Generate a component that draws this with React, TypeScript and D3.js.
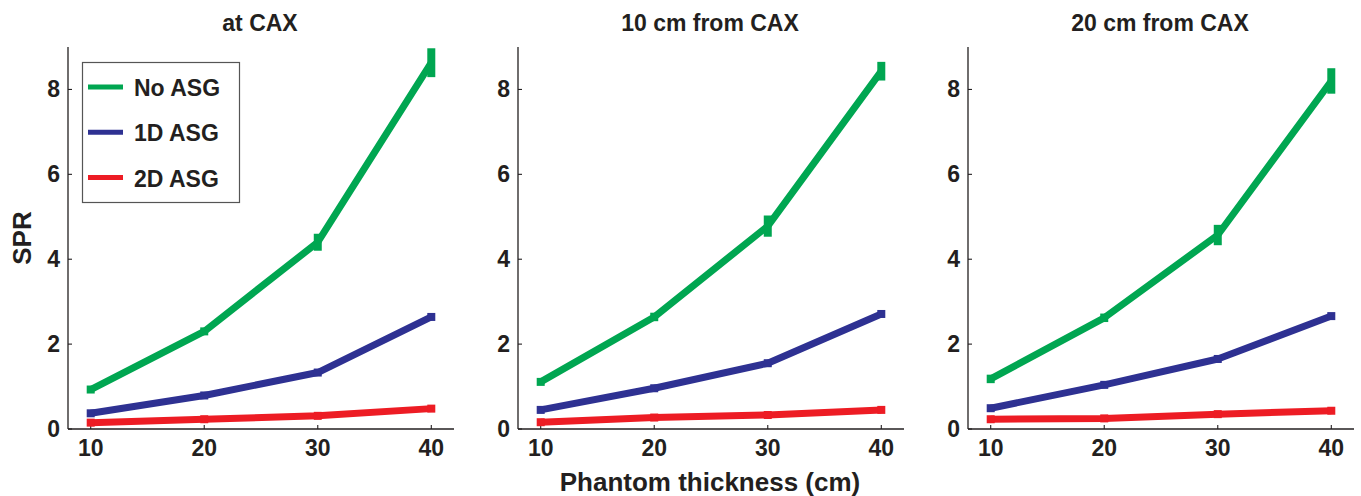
import React from "react";
import * as d3 from "d3";

// -- DATA --
const thickness = [10, 20, 30, 40];
const xTicks = [10, 20, 30, 40];
const yTicks = [0, 2, 4, 6, 8];
const panelTitles = ["at CAX", "10 cm from CAX", "20 cm from CAX"];
const seriesNames = ["No ASG", "1D ASG", "2D ASG"];
const seriesColors = ["#00a651", "#2e3192", "#ed1c24"];

// SPR per panel (rows) per series
const noAsg = [
  [0.93, 2.3, 4.4, 8.63],
  [1.11, 2.64, 4.78, 8.43],
  [1.18, 2.62, 4.57, 8.2],
];
const noAsgErr = [
  [0.06, 0.09, 0.2, 0.34],
  [0.07, 0.1, 0.25, 0.22],
  [0.1, 0.1, 0.24, 0.3],
];
const asg1d = [
  [0.37, 0.79, 1.33, 2.64],
  [0.45, 0.96, 1.55, 2.71],
  [0.49, 1.04, 1.65, 2.66],
];
const asg1dErr = [
  [0.03, 0.03, 0.05, 0.06],
  [0.03, 0.03, 0.04, 0.06],
  [0.03, 0.04, 0.04, 0.06],
];
const asg2d = [
  [0.15, 0.23, 0.31, 0.48],
  [0.16, 0.27, 0.33, 0.45],
  [0.23, 0.25, 0.35, 0.43],
];
const asg2dErr = [
  [0.03, 0.03, 0.05, 0.08],
  [0.03, 0.03, 0.04, 0.06],
  [0.04, 0.03, 0.05, 0.05],
];

const FONT = "'Liberation Sans', Arial, Helvetica, sans-serif";
const INK = "#231f20";

const App = () => {
  // -- LAYOUT --
  const width = 1361;
  const height = 496;
  const top = 47;
  const bottom = 429;
  const panelW = 386;
  const panelLefts = [68, 518, 968];

  const y = d3.scaleLinear().domain([0, 9]).range([bottom, top]);
  const line = (x: d3.ScaleLinear<number, number>) =>
    d3
      .line<number>()
      .x((_, i) => x(thickness[i]))
      .y((d) => y(d));

  const allSeries = [
    { vals: noAsg, errs: noAsgErr },
    { vals: asg1d, errs: asg1dErr },
    { vals: asg2d, errs: asg2dErr },
  ];

  return (
    <svg width={width} height={height} style={{ position: "absolute", left: 0, top: 0, fontFamily: FONT }}>
      <rect width={width} height={height} fill="white" />
      {panelLefts.map((left, p) => {
        const x = d3.scaleLinear().domain([8, 42]).range([left, left + panelW]);
        return (
          <g key={p}>
            <text x={left + panelW / 2 - 1} y={31} textAnchor="middle" fontSize={23} fontWeight="bold" fill={INK}>
              {panelTitles[p]}
            </text>
            {/* axes */}
            <line x1={left} x2={left} y1={top} y2={bottom} stroke={INK} strokeWidth={1.3} />
            <line x1={left} x2={left + panelW} y1={bottom} y2={bottom} stroke={INK} strokeWidth={1.3} />
            {yTicks.map((t) => (
              <g key={"y" + t}>
                <line x1={left} x2={left + 4} y1={y(t)} y2={y(t)} stroke={INK} strokeWidth={1.1} />
                <text x={left - 8} y={y(t) + 8} textAnchor="end" fontSize={23} fontWeight="bold" fill={INK}>
                  {t}
                </text>
              </g>
            ))}
            {xTicks.map((t) => (
              <g key={"x" + t}>
                <line x1={x(t)} x2={x(t)} y1={bottom} y2={bottom - 4} stroke={INK} strokeWidth={1.1} />
                <text x={x(t)} y={bottom + 27} textAnchor="middle" fontSize={23} fontWeight="bold" fill={INK}>
                  {t}
                </text>
              </g>
            ))}
            {/* series, drawn so green sits on top */}
            {[2, 1, 0].map((s) => {
              const vals = allSeries[s].vals[p];
              const errs = allSeries[s].errs[p];
              return (
                <g key={"s" + s}>
                  <path
                    d={line(x)(vals) || ""}
                    fill="none"
                    stroke={seriesColors[s]}
                    strokeWidth={7}
                    strokeLinejoin="round"
                  />
                  {vals.map((v, i) => {
                    const y1 = y(v + errs[i]);
                    const y2 = y(v - errs[i]);
                    const h = Math.max(y2 - y1, 8);
                    const cy = (y1 + y2) / 2;
                    return (
                      <rect
                        key={i}
                        x={x(thickness[i]) - 4}
                        y={cy - h / 2}
                        width={8}
                        height={h}
                        fill={seriesColors[s]}
                      />
                    );
                  })}
                </g>
              );
            })}
          </g>
        );
      })}
      {/* legend */}
      <rect x={82.5} y={62.5} width={157} height={140} fill="white" stroke="#555" strokeWidth={1.2} />
      {seriesNames.map((n, i) => (
        <g key={n}>
          <line x1={88} x2={123} y1={87 + i * 45.3} y2={87 + i * 45.3} stroke={seriesColors[i]} strokeWidth={5} />
          <text x={134} y={87 + i * 45.3 + 9} fontSize={23} fontWeight="bold" fill={INK}>
            {n}
          </text>
        </g>
      ))}
      {/* axis titles */}
      <text
        transform="translate(31,238) rotate(-90)"
        textAnchor="middle"
        fontSize={26}
        fontWeight="bold"
        fill={INK}
      >
        SPR
      </text>
      <text x={710} y={491} textAnchor="middle" fontSize={26} fontWeight="bold" fill={INK}>
        Phantom thickness (cm)
      </text>
    </svg>
  );
};

export default App;
